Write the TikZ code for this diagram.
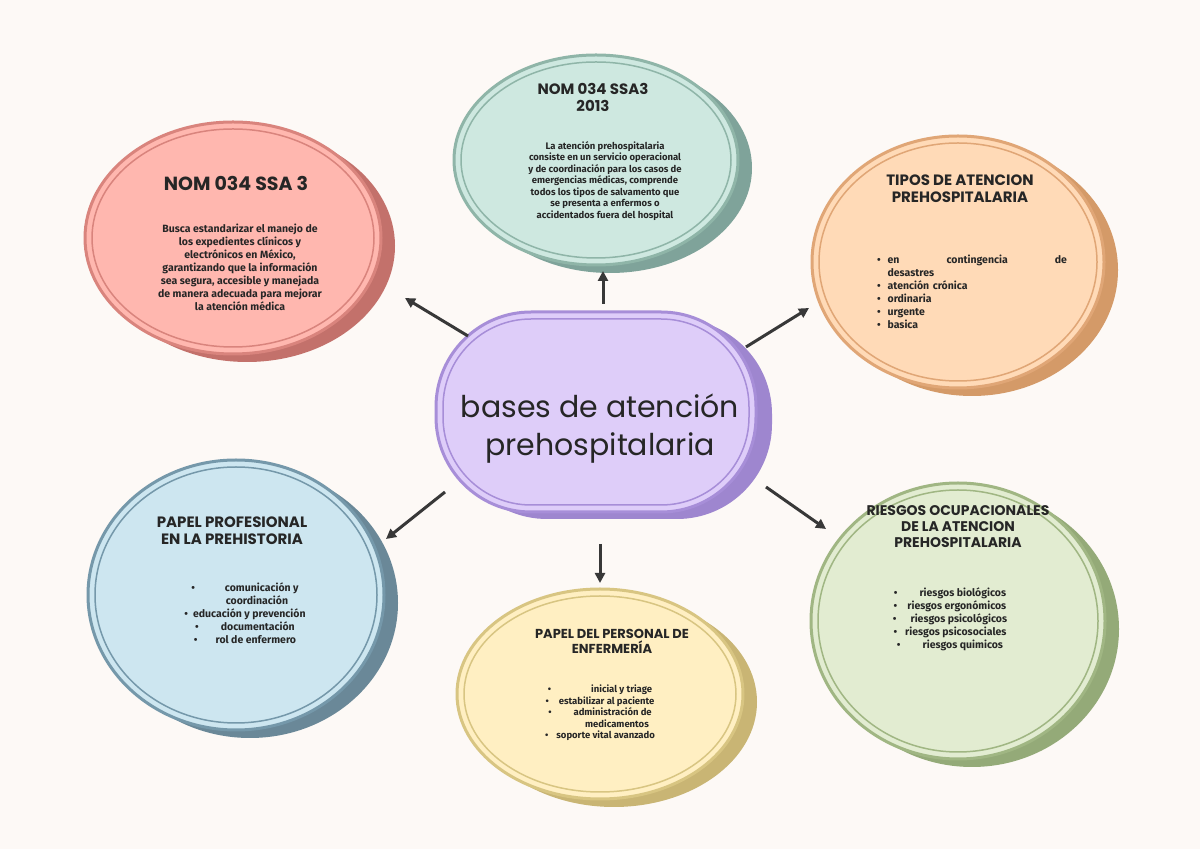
\documentclass[tikz,border=0pt]{standalone}
\usepackage{fontspec}
\setmainfont{Fira Sans}
\newfontfamily\ttl{Poppins}
\usetikzlibrary{shapes.geometric,arrows.meta}
\definecolor{bg}{HTML}{FDF9F6}
\definecolor{tF}{HTML}{CEE8E0}\definecolor{tD}{HTML}{8FB5A8}\definecolor{tS}{HTML}{7FA39A}
\definecolor{ltF}{HTML}{FFB7AF}\definecolor{ltD}{HTML}{D9847D}\definecolor{ltS}{HTML}{C3716B}
\definecolor{rtF}{HTML}{FFDAB7}\definecolor{rtD}{HTML}{E0A676}\definecolor{rtS}{HTML}{D49A68}
\definecolor{lbF}{HTML}{CDE6F0}\definecolor{lbD}{HTML}{7598AA}\definecolor{lbS}{HTML}{6A8898}
\definecolor{bF}{HTML}{FFEFC2}\definecolor{bD}{HTML}{D8C582}\definecolor{bS}{HTML}{C9B574}
\definecolor{rbF}{HTML}{E2ECD1}\definecolor{rbD}{HTML}{A0B683}\definecolor{rbS}{HTML}{94AA78}
\definecolor{cF}{HTML}{DECDF9}\definecolor{cD}{HTML}{A78ED8}\definecolor{cS}{HTML}{9E86CF}
\tikzset{
 body/.style={font=\fontsize{10.5}{13}\selectfont\bfseries,color=black!85,align=center},
 head/.style={font=\ttl\fontsize{15}{17}\selectfont\bfseries,color=black!85,align=center},
 arr/.style={-{Triangle[length=10pt,width=10pt]},line width=3pt,color=black!78},
}
\newcommand{\bubble}[8]{% name x y rx ry fill border shadow
 \fill[#8] (#2+14,#3-8) ellipse[x radius=#4,y radius=#5];
 \node[ellipse,minimum width=2*#4,minimum height=2*#5,fill=#6,draw=#7,line width=3pt,inner sep=0pt] (#1) at (#2,#3) {};
 \draw[#7,line width=1.5pt] (#2,#3) ellipse[x radius=#4-7,y radius=#5-7];
}
\begin{document}
\begin{tikzpicture}[x=1pt,y=1pt]
\fill[bg] (0,0) rectangle (1200,849);
\useasboundingbox (0,0) rectangle (1200,849);
\bubble{t}{596}{689}{142}{105}{tF}{tD}{tS}
\bubble{lt}{233}{611}{148}{116}{ltF}{ltD}{ltS}
\bubble{rt}{958}{587}{146}{126}{rtF}{rtD}{rtS}
\bubble{lb}{236}{254}{148}{135}{lbF}{lbD}{lbS}
\bubble{b}{600}{155}{143}{105}{bF}{bD}{bS}
\bubble{rb}{958}{228}{147}{138}{rbF}{rbD}{rbS}
% center stadium
\fill[cS,rounded corners=95pt] (452,330) rectangle (772,530);
\node[rounded corners=95pt,minimum width=320pt,minimum height=200pt,fill=cF,draw=cD,line width=3pt,inner sep=0pt] (c) at (596,437) {};
\draw[cD,line width=1.5pt,rounded corners=88pt] (443,344) rectangle (749,530);
\node[font=\ttl\fontsize{30}{38}\selectfont,color=black!85,align=center] (ct) at (600,420) {bases de atención\\prehospitalaria};
% texts
\node[head] (th) at (593,752) {NOM 034 SSA3\\2013};
\node[body,font=\fontsize{9.5}{11.5}\selectfont\bfseries] (tb) at (605,668) {La atención prehospitalaria\\consiste en un servicio operacional\\y de coordinación para los casos de\\emergencias médicas, comprende\\todos los tipos de salvamento que\\se presenta a enfermos o\\accidentados fuera del hospital};
\node[font=\ttl\fontsize{19}{22}\selectfont\bfseries,color=black!85] (lth) at (236,666) {NOM 034 SSA 3};
\node[body] (ltb) at (240,582) {Busca estandarizar el manejo de\\los expedientes clínicos y\\electrónicos en México,\\garantizando que la información\\sea segura, accesible y manejada\\de manera adecuada para mejorar\\la atención médica};
\node[head] (rth) at (960,660) {TIPOS DE ATENCION\\PREHOSPITALARIA};
\node[body,align=left,text width=190pt] (rtb) at (972,557) {\textbullet\ \ en\hfill contingencia\hfill de\\\hphantom{\textbullet\ \ }desastres\\\textbullet\ \ atención crónica\\\textbullet\ \ ordinaria\\\textbullet\ \ urgente\\\textbullet\ \ basica};
\node[head] (lbh) at (232,318) {PAPEL PROFESIONAL\\EN LA PREHISTORIA};
\node[body] (lbb) at (245,236) {\textbullet\hspace{30pt}comunicación y\\\hspace{24pt}coordinación\\\textbullet\ \ educación y prevención\\\textbullet\hspace{22pt}documentación\\\textbullet\hspace{18pt}rol de enfermero};
\node[head,font=\ttl\fontsize{13}{15}\selectfont\bfseries] (bh) at (612,208) {PAPEL DEL PERSONAL DE\\ENFERMERÍA};
\node[body,font=\fontsize{9.5}{11.5}\selectfont\bfseries] (bb) at (600,136) {\textbullet\hspace{40pt}inicial y triage\\\textbullet\hspace{10pt}estabilizar al paciente\\\textbullet\hspace{22pt}administración de\\\hspace{34pt}medicamentos\\\textbullet\hspace{8pt}soporte vital avanzado};
\node[head,font=\ttl\fontsize{14}{16}\selectfont\bfseries] (rbh) at (958,322) {RIESGOS OCUPACIONALES\\DE LA ATENCION\\PREHOSPITALARIA};
\node[body] (rbb) at (950,230) {\textbullet\hspace{22pt}riesgos biológicos\\\textbullet\hspace{10pt}riesgos ergonómicos\\\textbullet\hspace{14pt}riesgos psicológicos\\\textbullet\hspace{8pt}riesgos psicosociales\\\textbullet\hspace{22pt}riesgos quimicos};
% arrows
\coordinate (a1) at (468,513); \coordinate (a1e) at (405,551);
\coordinate (a2) at (603,545); \coordinate (a2e) at (603,578);
\coordinate (a3) at (746,502); \coordinate (a3e) at (809,541);
\coordinate (a4) at (445,357); \coordinate (a4e) at (386,310);
\coordinate (a5) at (600,305); \coordinate (a5e) at (600,266);
\coordinate (a6) at (766,362); \coordinate (a6e) at (826,320);
\draw[arr] (a1) -- (a1e);
\draw[arr] (a2) -- (a2e);
\draw[arr] (a3) -- (a3e);
\draw[arr] (a4) -- (a4e);
\draw[arr] (a5) -- (a5e);
\draw[arr] (a6) -- (a6e);
\end{tikzpicture}
\end{document}
